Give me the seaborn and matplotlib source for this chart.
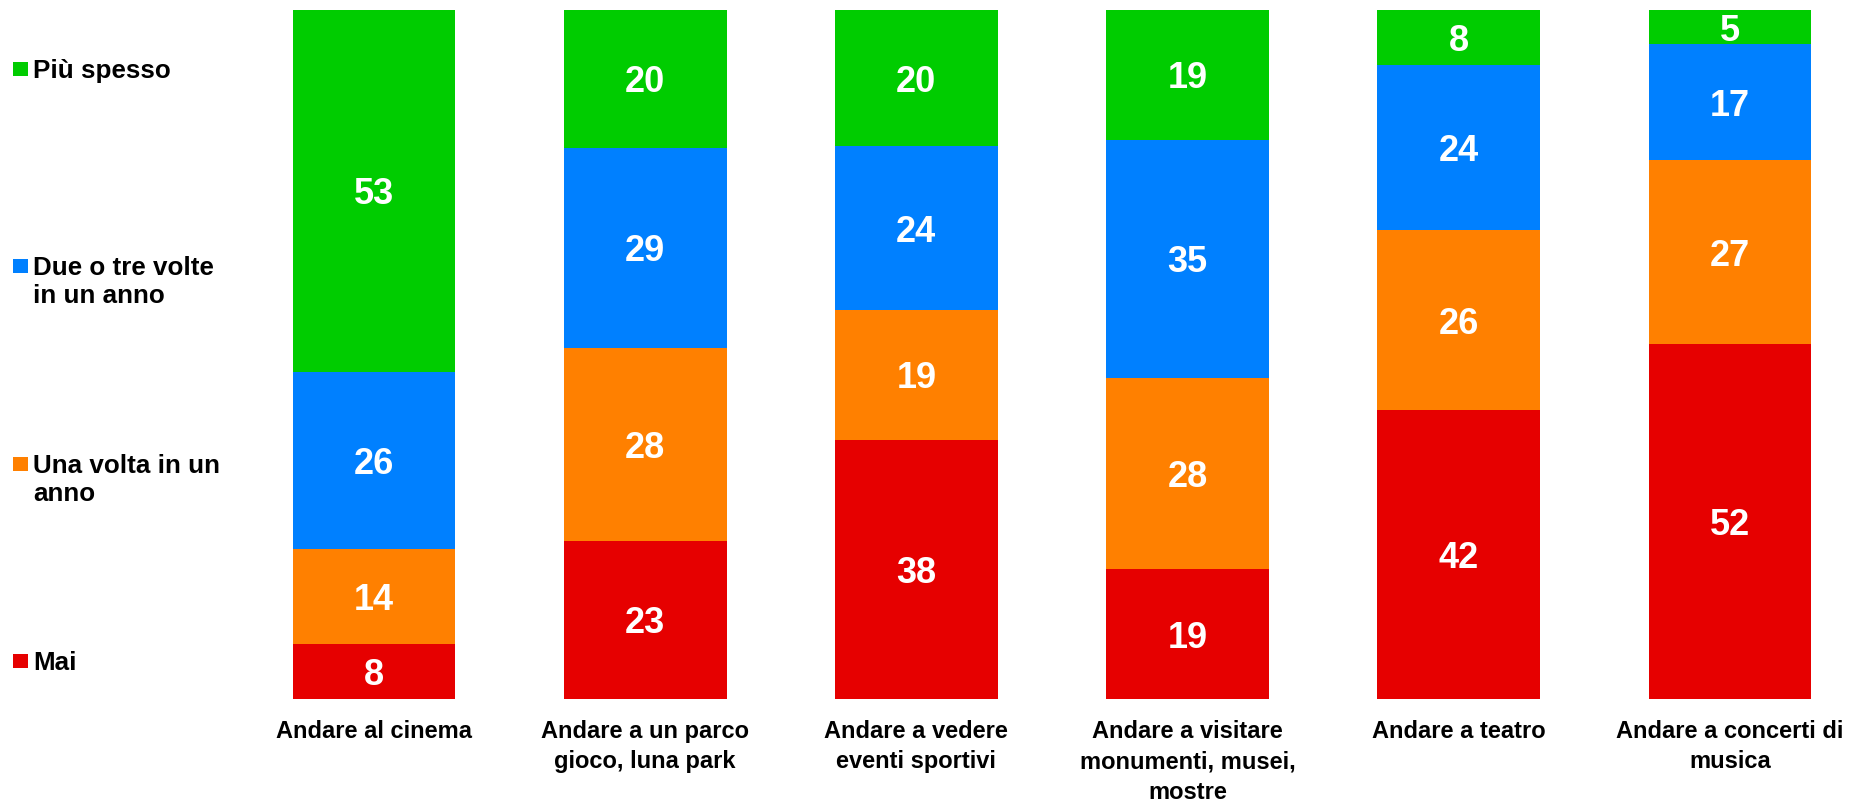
import numpy as np
import pandas as pd
import matplotlib
matplotlib.use("Agg")
import matplotlib.pyplot as plt
import seaborn as sns

# ---------------- data ----------------
categories = [
    "Andare al cinema",
    "Andare a un parco\ngioco, luna park",
    "Andare a vedere\neventi sportivi",
    "Andare a visitare\nmonumenti, musei,\nmostre",
    "Andare a teatro",
    "Andare a concerti di\nmusica",
]
series_names = ["Mai", "Una volta in un\nanno", "Due o tre volte\nin un anno", "Più spesso"]
mai = [8, 23, 38, 19, 42, 52]
una_volta = [14, 28, 19, 28, 26, 27]
due_tre = [26, 29, 24, 35, 24, 17]
piu_spesso = [53, 20, 20, 19, 8, 5]
colors = ["#E60000", "#FF8000", "#0080FF", "#00CC00"]

series_values = [mai, una_volta, due_tre, piu_spesso]

sns.set_theme(style="white")
plt.rcParams["font.family"] = ["Liberation Sans", "DejaVu Sans"]
plt.rcParams["font.weight"] = "bold"

W, H = 1862, 802
fig = plt.figure(figsize=(W / 100, H / 100), dpi=100)
ax_left, ax_right, ax_top, ax_bottom = 238.4, 1862, 10, 699
ax = fig.add_axes([ax_left / W, (H - ax_bottom) / H,
                   (ax_right - ax_left) / W, (ax_bottom - ax_top) / H])

# normalised stacked percentages
vals = np.array(series_values, dtype=float)
totals = vals.sum(axis=0)
norm = vals / totals * 100
cum = np.cumsum(norm, axis=0)

# draw cumulative bars from the top level down so each lower level overlays
for k in range(len(series_names) - 1, -1, -1):
    df = pd.DataFrame({"cat": categories, "val": cum[k]})
    sns.barplot(data=df, x="cat", y="val", order=categories, color=colors[k],
                saturation=1, width=0.6, ax=ax, edgecolor="none", linewidth=0)

# value labels centred in each segment
for k in range(len(series_names)):
    for i in range(len(categories)):
        y = cum[k, i] - norm[k, i] / 2
        ax.text(i, y, str(series_values[k][i]), ha="center", va="center_baseline",
                color="white", fontsize=26, fontweight="bold")

ax.set_xlim(-0.5, 5.487)
ax.set_ylim(0, 100)
ax.set_xlabel("")
ax.set_ylabel("")
ax.set_yticks([])
sns.despine(ax=ax, left=True, bottom=True)
ax.tick_params(axis="x", length=0, pad=15)
for lab in ax.get_xticklabels():
    lab.set_fontsize(17)
    lab.set_fontweight("bold")
    lab.set_color("black")
    lab.set_linespacing(1.42)

# legend on the left (top-to-bottom: Più spesso ... Mai)
legend_centers = [661, 464, 266, 69]  # pixel y from top, for mai..piu
for k in range(len(series_names)):
    yc = legend_centers[k]
    fig.patches.append(matplotlib.patches.Rectangle(
        (13 / W, (H - yc - 7) / H), 15 / W, 14 / H,
        transform=fig.transFigure, facecolor=colors[k], edgecolor="none"))
    fig.text(33 / W, (H - yc + 10) / H, series_names[k], ha="left", va="top",
             fontsize=18.7, fontweight="bold", color="black", linespacing=1.22)

fig.savefig("out.png", dpi=100, facecolor="white")
